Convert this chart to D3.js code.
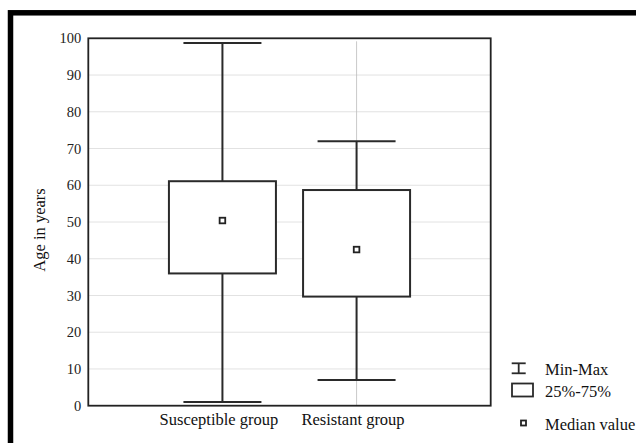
<!DOCTYPE html>
<html>
<head>
<meta charset="utf-8">
<script src="https://cdn.jsdelivr.net/npm/d3@7"></script>
<style>
  html, body { margin: 0; padding: 0; background: #fff; }
  svg { display: block; }
  svg text { font-family: "Liberation Serif", "Times New Roman", serif !important; }
</style>
</head>
<body>
<svg id="chart" width="636" height="443"></svg>
<script>
// Data
const groups = ["Susceptible group", "Resistant group"];
const minVals = [1, 7];
const q1Vals = [36, 29.7];
const medianVals = [50.4, 42.5];
const q3Vals = [61.1, 58.7];
const maxVals = [98.7, 72];
const yTicks = [0, 10, 20, 30, 40, 50, 60, 70, 80, 90, 100];
const legendLabels = ["Min-Max", "25%-75%", "Median value"];

const W = 636, H = 443;
const margin = { top: 38.3, right: 145.3, bottom: 37.3, left: 88.3 };
const innerW = W - margin.left - margin.right,
  innerH = H - margin.top - margin.bottom;

const svg = d3.select("#chart");

// thick outer frame (only top and left visible)
svg.append("rect")
  .attr("x", 10.5).attr("y", 12.8)
  .attr("width", W).attr("height", H)
  .attr("fill", "none")
  .attr("stroke", "#000")
  .attr("stroke-width", 5.5);

const g = svg.append("g")
  .attr("transform", `translate(${margin.left},${margin.top})`);

const x = d3.scalePoint()
  .domain(groups)
  .range([0, innerW])
  .padding(1);

const y = d3.scaleLinear()
  .domain([0, 100])
  .range([innerH, 0]);

// gridlines
g.append("g")
  .selectAll("line")
  .data(yTicks.filter(d => d > 0 && d < 100))
  .enter()
  .append("line")
  .attr("x1", 0).attr("x2", innerW)
  .attr("y1", d => y(d)).attr("y2", d => y(d))
  .attr("stroke", "#e2e2e2")
  .attr("stroke-width", 1);

// faint vertical line through the second group
g.append("line")
  .attr("x1", x(groups[1])).attr("x2", x(groups[1]))
  .attr("y1", 3).attr("y2", innerH)
  .attr("stroke", "#bdbdbd")
  .attr("stroke-width", 0.8);

// Y axis
const yAxis = g.append("g")
  .call(d3.axisLeft(y).tickValues(yTicks).tickSize(0).tickPadding(7));
yAxis.select(".domain").remove();
yAxis.selectAll("text")
  .style("font-size", "14.5px")
  .attr("fill", "#222");

// X axis
const xAxis = g.append("g")
  .attr("transform", `translate(0,${innerH})`)
  .call(d3.axisBottom(x).tickSize(0).tickPadding(8));
xAxis.select(".domain").remove();
xAxis.selectAll("text")
  .style("font-size", "16.5px")
  .attr("fill", "#111")
  .attr("dx", "-4")
  .attr("dy", "0.71em");

// y label
svg.append("text")
  .attr("transform", `translate(44.5,230) rotate(-90)`)
  .attr("text-anchor", "middle")
  .style("font-size", "16.5px")
  .attr("fill", "#111")
  .text("Age in years");

// boxes
const boxW = 107, capW = 78;
const stroke = "#2a2a2a";
groups.forEach((grp, i) => {
  const cx = x(grp);
  // whisker
  g.append("line")
    .attr("x1", cx).attr("x2", cx)
    .attr("y1", y(maxVals[i])).attr("y2", y(minVals[i]))
    .attr("stroke", stroke).attr("stroke-width", 2);
  [minVals[i], maxVals[i]].forEach(v => {
    g.append("line")
      .attr("x1", cx - capW / 2).attr("x2", cx + capW / 2)
      .attr("y1", y(v)).attr("y2", y(v))
      .attr("stroke", stroke).attr("stroke-width", 2);
  });
  // box
  g.append("rect")
    .attr("x", cx - boxW / 2)
    .attr("y", y(q3Vals[i]))
    .attr("width", boxW)
    .attr("height", y(q1Vals[i]) - y(q3Vals[i]))
    .attr("fill", "#fff")
    .attr("stroke", stroke).attr("stroke-width", 2);
  // median marker
  g.append("rect")
    .attr("x", cx - 2.8).attr("y", y(medianVals[i]) - 2.8)
    .attr("width", 5.6).attr("height", 5.6)
    .attr("fill", "#fff")
    .attr("stroke", "#222").attr("stroke-width", 1.8);
});

// plot frame
g.append("rect")
  .attr("x", 0).attr("y", 0)
  .attr("width", innerW).attr("height", innerH)
  .attr("fill", "none")
  .attr("stroke", "#222")
  .attr("stroke-width", 1.8);

// legend
const lg = svg.append("g");
lg.append("line").attr("x1", 511.7).attr("x2", 525.7).attr("y1", 363.3).attr("y2", 363.3)
  .attr("stroke", stroke).attr("stroke-width", 1.8);
lg.append("line").attr("x1", 511.7).attr("x2", 525.7).attr("y1", 373.3).attr("y2", 373.3)
  .attr("stroke", stroke).attr("stroke-width", 1.8);
lg.append("line").attr("x1", 518.7).attr("x2", 518.7).attr("y1", 363.3).attr("y2", 373.3)
  .attr("stroke", stroke).attr("stroke-width", 1.8);
lg.append("rect").attr("x", 512).attr("y", 383.5).attr("width", 21).attr("height", 13)
  .attr("fill", "#fff").attr("stroke", stroke).attr("stroke-width", 1.8);
lg.append("rect").attr("x", 521).attr("y", 420.5).attr("width", 5).attr("height", 5)
  .attr("fill", "#fff").attr("stroke", "#222").attr("stroke-width", 1.8);

const legendY = [375, 396.7, 430];
lg.selectAll("text.leg")
  .data(legendLabels)
  .enter()
  .append("text")
  .attr("class", "leg")
  .attr("x", 545)
  .attr("y", (d, i) => legendY[i])
  .style("font-size", "16.5px")
  .attr("fill", "#111")
  .text(d => d);
</script>
</body>
</html>
